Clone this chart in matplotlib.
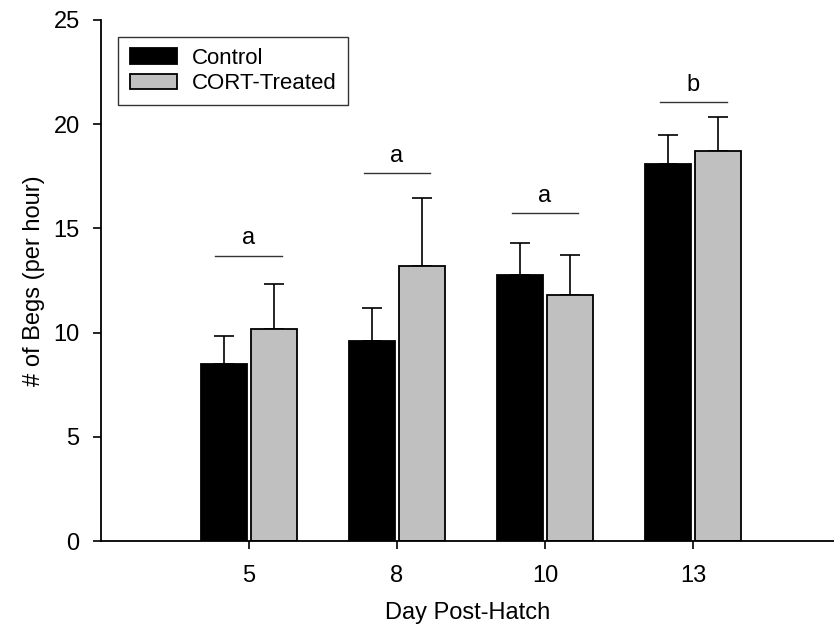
import matplotlib
matplotlib.use("Agg")
import matplotlib.pyplot as plt
import numpy as np

# ==========================================
#  DATA
# ==========================================
days = ["5", "8", "10", "13"]
control_mean = [8.5, 9.6, 12.75, 18.1]
control_err = [1.35, 1.6, 1.55, 1.4]
cort_mean = [10.17, 13.2, 11.8, 18.73]
cort_err = [2.15, 3.25, 1.9, 1.6]
sig_letters = ["a", "a", "a", "b"]
sig_heights = [13.69, 17.66, 15.75, 21.05]

# ==========================================
#  STYLE
# ==========================================
plt.rcParams["font.family"] = ["Liberation Sans", "DejaVu Sans"]
plt.rcParams["font.size"] = 17

fig = plt.figure(figsize=(8.34, 6.32), dpi=100)
ax = fig.add_axes([100.5 / 834, 91 / 632, 1 - 100.5 / 834, 521 / 632])

x = np.arange(1, len(days) + 1)
width = 0.31
off = 0.169

ax.bar(x - off, control_mean, width, color="black", edgecolor="black",
       linewidth=1.3, label="Control", zorder=2)
ax.bar(x + off, cort_mean, width, color="#c0c0c0", edgecolor="black",
       linewidth=1.3, label="CORT-Treated", zorder=2)

# upper error bars only
ax.errorbar(x - off, control_mean, yerr=[np.zeros(len(days)), control_err],
            fmt="none", ecolor="black", elinewidth=1.2, capsize=7.5,
            capthick=1.2, zorder=1)
ax.errorbar(x + off, cort_mean, yerr=[np.zeros(len(days)), cort_err],
            fmt="none", ecolor="black", elinewidth=1.2, capsize=7.5,
            capthick=1.2, zorder=1)

# significance lines and letters
for xi, h, letter in zip(x, sig_heights, sig_letters):
    ax.plot([xi - 0.225, xi + 0.225], [h, h], color="#333333", linewidth=1.0)
    ax.text(xi, h + 0.3, letter, ha="center", va="bottom", fontsize=17)

ax.set_xlim(0, 4.95)
ax.set_ylim(0, 25)
ax.set_xticks(x)
ax.set_xticklabels(days)
ax.set_yticks([0, 5, 10, 15, 20, 25])
ax.set_xlabel("Day Post-Hatch", labelpad=11)
ax.set_ylabel("# of Begs (per hour)", labelpad=6)

for side in ["top", "right"]:
    ax.spines[side].set_visible(False)
for side in ["left", "bottom"]:
    ax.spines[side].set_linewidth(1.3)
ax.tick_params(axis="both", direction="out", length=6, width=1.2, pad=11)
ax.tick_params(axis="y", pad=9)

leg = ax.legend(loc="upper left", bbox_to_anchor=(0.0245, 0.968),
                borderaxespad=0, frameon=True, fancybox=False,
                edgecolor="black", handlelength=2.15, handleheight=0.72,
                handletextpad=0.65, labelspacing=0.2, borderpad=0.5,
                fontsize=16)
leg.get_frame().set_linewidth(1.0)

plt.savefig("out.png", dpi=100)
plt.close()
